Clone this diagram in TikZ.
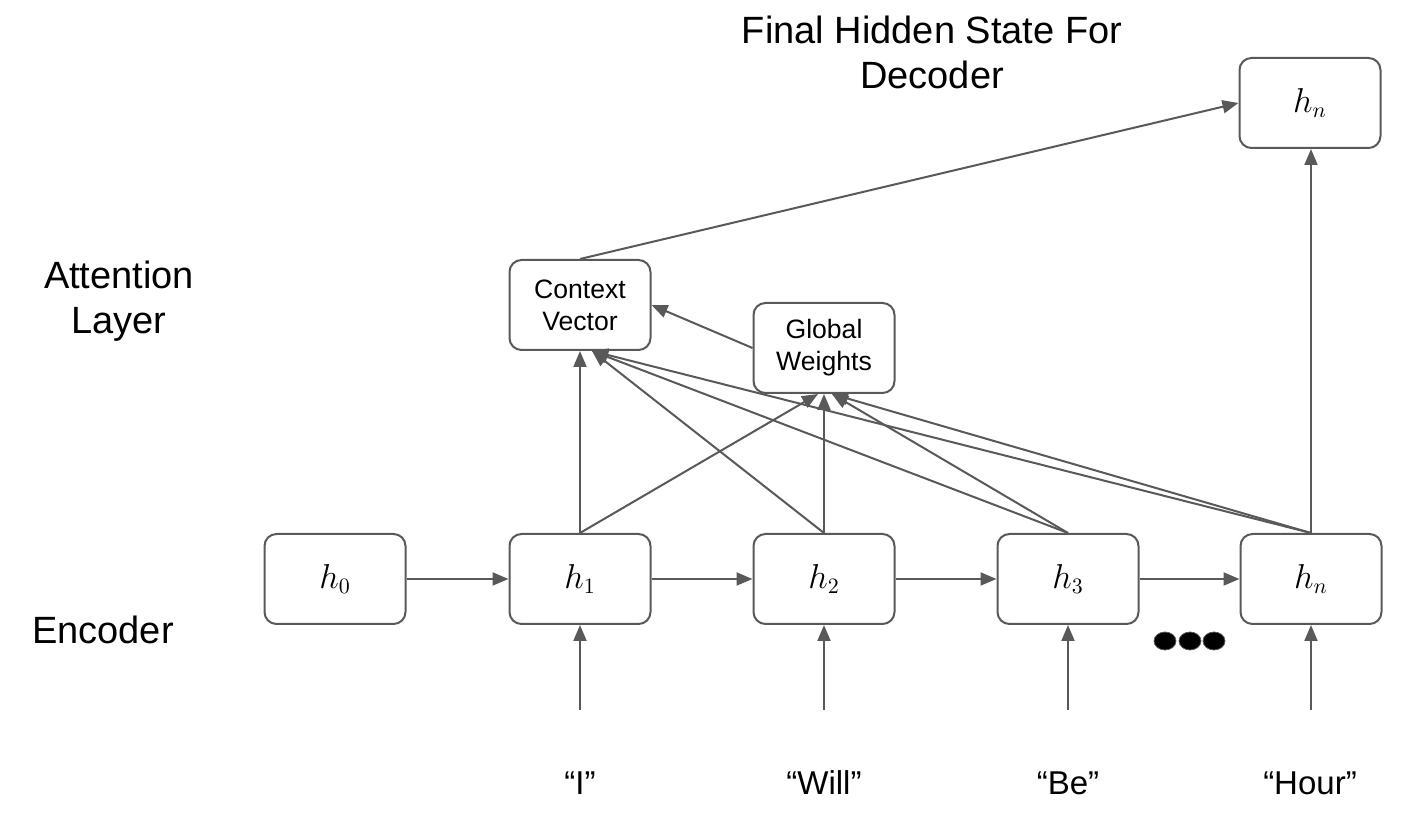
\documentclass[tikz,border=0pt]{standalone}
\usepackage{amsmath}
\usepackage{fontspec}
\setmainfont{Liberation Sans}
\usetikzlibrary{arrows.meta}
\definecolor{linegray}{HTML}{595959}

\begin{document}
\begin{tikzpicture}[x=0.5pt,y=-0.5pt,
  box/.style={draw=linegray,line width=1pt,rounded corners=6pt,minimum width=70.5pt,
    minimum height=45pt,inner sep=0pt,align=center,font=\fontsize{13.3}{16}\selectfont},
  hbox/.style={box,font=\fontsize{16}{19}\selectfont},
  lbl/.style={inner sep=0pt,align=center,font=\fontsize{19}{22.5}\selectfont},
  word/.style={inner sep=0pt,font=\fontsize{16.5}{20}\selectfont},
  arr/.style={draw=linegray,line width=1pt,-{Triangle[length=8pt,width=6.5pt]},color=linegray}]
\useasboundingbox (0,0) rectangle (1405,817);
% encoder states
\node[hbox] (h0) at (335,579) {$h_0$};
\node[hbox] (h1) at (580,579) {$h_1$};
\node[hbox] (h2) at (824,579) {$h_2$};
\node[hbox] (h3) at (1068,579) {$h_3$};
\node[hbox] (hn) at (1311,579) {$h_n$};
% attention layer
\node[box] (ctx) at (580,305) {Context\\Vector};
\node[box] (glob) at (824,348) {Global\\Weights};
\node[hbox] (final) at (1310,103) {$h_n$};
% labels
\node[lbl] (att) at (119,301) {Attention\\Layer};
\node[lbl] (enc) at (103,630) {Encoder};
\node[lbl] (fin) at (932,52) {Final Hidden State For\\Decoder};
% inputs
\node[word] (w1) at (580,783) {“I”};
\node[word] (w2) at (824,783) {“Will”};
\node[word] (w3) at (1068,783) {“Be”};
\node[word] (w4) at (1310,783) {“Hour”};
\coordinate (i1) at (580,710);
\coordinate (i2) at (824,710);
\coordinate (i3) at (1068,710);
\coordinate (i4) at (1311,710);
% dots
\foreach \x in {1165,1190,1214}
  \fill[black,draw=linegray] (\x,641) ellipse (5.5pt and 4.5pt);
% arrows
\draw[arr] (h0) -- (h1);
\draw[arr] (h1) -- (h2);
\draw[arr] (h2) -- (h3);
\draw[arr] (h3) -- (hn);
\draw[arr] (i1) -- (h1);
\draw[arr] (i2) -- (h2);
\draw[arr] (i3) -- (h3);
\draw[arr] (i4) -- (hn);
\draw[arr] (h1.north) -- (ctx.south);
\draw[arr] (h2.north) -- ([xshift=6pt]ctx.south);
\draw[arr] (h3.north) -- ([xshift=6pt]ctx.south);
\draw[arr] (hn.north) -- ([xshift=6pt]ctx.south);
\draw[arr] (h1.north) -- ([xshift=-3pt]glob.south);
\draw[arr] (h2.north) -- (glob.south);
\draw[arr] (h3.north) -- ([xshift=4pt]glob.south);
\draw[arr] (hn.north) -- ([xshift=4pt]glob.south);
\draw[arr] (glob.west) -- (ctx.east);
\draw[arr] (ctx.north) -- (final.west);
\draw[arr] (hn.north) -- (hn.north |- final.south);
\end{tikzpicture}
\end{document}
